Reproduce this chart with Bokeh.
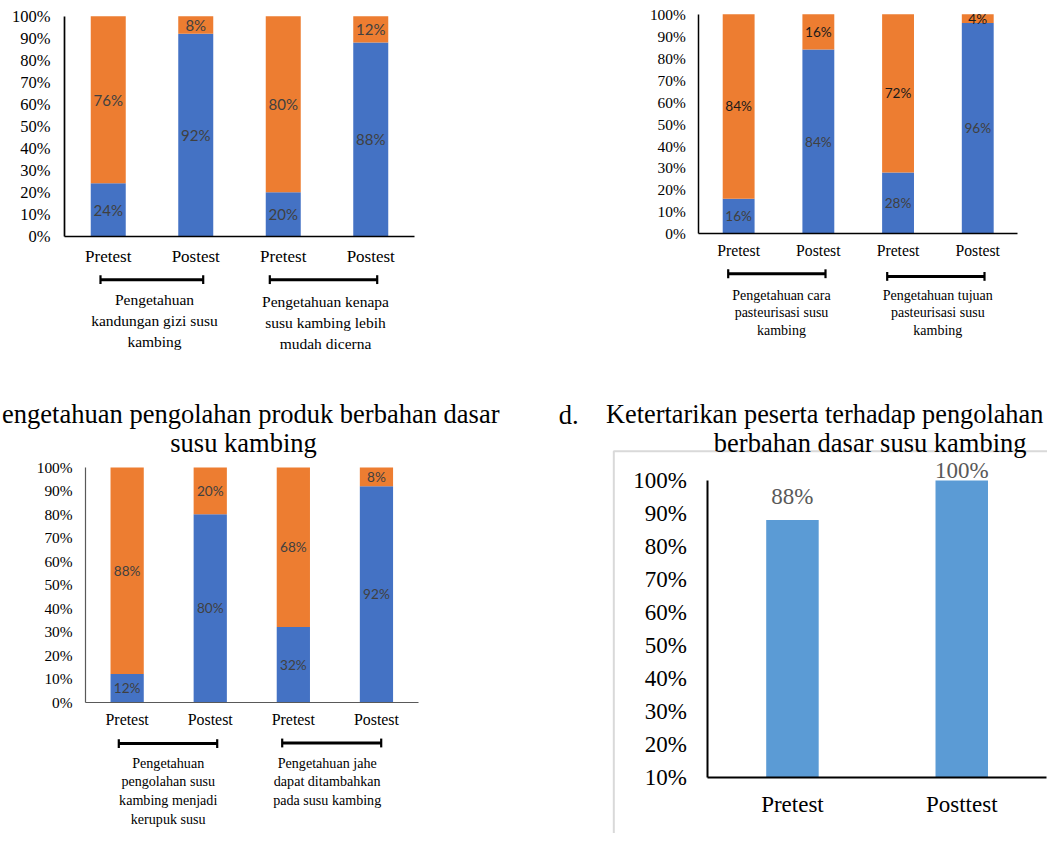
from bokeh.plotting import figure
from bokeh.layouts import column, row
from bokeh.models import Range1d, LinearAxis, FixedTicker, PrintfTickFormatter
from bokeh.core.properties import value
from bokeh.embed import file_html
from bokeh.resources import INLINE

# ---------------- data ----------------
categories = ["Pretest", "Postest", "Pretest", "Postest"]

a_blue = [24, 92, 20, 88]
a_orange = [76, 8, 80, 12]
a_groups = [["Pengetahuan", "kandungan gizi susu", "kambing"],
            ["Pengetahuan kenapa", "susu kambing lebih", "mudah dicerna"]]

b_blue = [16, 84, 28, 96]
b_orange = [84, 16, 72, 4]
b_groups = [["Pengetahuan cara", "pasteurisasi susu", "kambing"],
            ["Pengetahuan tujuan", "pasteurisasi susu", "kambing"]]

c_blue = [12, 80, 32, 92]
c_orange = [88, 20, 68, 8]
c_groups = [["Pengetahuan", "pengolahan susu", "kambing menjadi", "kerupuk susu"],
            ["Pengetahuan jahe", "dapat ditambahkan", "pada susu kambing"]]
c_title = ["engetahuan pengolahan produk berbahan dasar", "susu kambing"]

d_categories = ["Pretest", "Posttest"]
d_values = [88, 100]
d_title_prefix = "d."
d_title = ["Ketertarikan peserta terhadap pengolahan", "berbahan dasar susu kambing"]

y_ticks = [0, 10, 20, 30, 40, 50, 60, 70, 80, 90, 100]
d_ticks = [10, 20, 30, 40, 50, 60, 70, 80, 90, 100]

# ---------------- styles / geometry (reference pixels) ----------------
SY = 833 / 849
BLUE = "#4472C4"
ORANGE = "#ED7D31"
SERIF = "Liberation Serif"
SANS = "Lato"


def fs(px):
    return f"{px:.1f}px"


def mk_map(x0, unit, ylo_px, yhi_px, vlo):
    def X(px):
        return 0.5 + (px - x0) / unit

    def Y(py):
        return vlo + (ylo_px - py) / (ylo_px - yhi_px) * (100 - vlo)
    return X, Y


def base_fig(box, w, h, X, Y):
    p = figure(width=w, height=h,
               x_range=Range1d(X(box[0]), X(box[2])),
               y_range=Range1d(Y(box[3]), Y(box[1])),
               toolbar_location=None, output_backend="svg",
               x_axis_location=None, y_axis_location=None,
               min_border=0, outline_line_color=None,
               background_fill_color="white", border_fill_color="white")
    p.grid.visible = False
    return p


def add_axes(p, n, cats, ticks, vlo, st):
    ya = LinearAxis(fixed_location=0.5, bounds=(vlo, 100),
                    ticker=FixedTicker(ticks=ticks),
                    formatter=PrintfTickFormatter(format="%d%%"),
                    major_tick_in=0, major_tick_out=0,
                    minor_tick_line_color=None, major_tick_line_color=None,
                    axis_line_color=st["axis_color"], axis_line_width=st["axis_w"],
                    major_label_text_font=SERIF,
                    major_label_text_font_size=fs(st["tick_fs"]),
                    major_label_text_color="black",
                    major_label_standoff=st["y_standoff"])
    p.add_layout(ya, "left")
    xs = [i + 1 for i in range(n)]
    xa = LinearAxis(fixed_location=vlo, bounds=(0.5, n + 0.5),
                    ticker=FixedTicker(ticks=xs),
                    major_label_overrides={x: c for x, c in zip(xs, cats)},
                    major_tick_in=0, major_tick_out=0,
                    minor_tick_line_color=None, major_tick_line_color=None,
                    axis_line_color=st["axis_color"], axis_line_width=st["axis_w"],
                    major_label_text_font=SERIF,
                    major_label_text_font_size=fs(st["cat_fs"]),
                    major_label_text_color="black",
                    major_label_standoff=st["x_standoff"])
    p.add_layout(xa, "below")


def stacked_chart(blue, orange, groups, st):
    X, Y = mk_map(st["x0"], st["unit"], st["y0"], st["y1"], 0)
    box = st["box"]
    p = base_fig(box, st["w"], st["h"], X, Y)
    n = len(blue)
    xs = [i + 1 for i in range(n)]
    tops = [b + o for b, o in zip(blue, orange)]
    p.vbar(x=xs, width=0.4, bottom=0, top=blue, fill_color=BLUE, line_color=None)
    p.vbar(x=xs, width=0.4, bottom=blue, top=tops, fill_color=ORANGE, line_color=None)
    p.text(x=xs, y=[b / 2 for b in blue], text=[f"{b}%" for b in blue],
           text_align="center", text_baseline="middle",
           text_font=value(SANS), text_font_size=value(fs(st["lab_fs"])),
           text_color=st["blue_lab"])
    p.text(x=xs, y=[b + o / 2 for b, o in zip(blue, orange)], text=[f"{o}%" for o in orange],
           text_align="center", text_baseline="middle",
           text_font=value(SANS), text_font_size=value(fs(st["lab_fs"])),
           text_color=st["orange_lab"])
    add_axes(p, n, categories, y_ticks, 0, st)
    cap = 4.5
    for (xl, xr, yb) in st["brackets"]:
        p.segment(x0=[X(xl)], y0=[Y(yb)], x1=[X(xr)], y1=[Y(yb)],
                  line_width=3, line_color="black")
        p.segment(x0=[X(xl), X(xr)], y0=[Y(yb - cap)] * 2, x1=[X(xl), X(xr)],
                  y1=[Y(yb + cap)] * 2, line_width=2.2, line_color="black")
    for (cx, y_first, dy), lines in zip(st["groups"], groups):
        p.text(x=[X(cx)] * len(lines), y=[Y(y_first + k * dy) for k in range(len(lines))],
               text=lines, text_align="center", text_baseline="middle",
               text_font=value(SERIF), text_font_size=value(fs(st["grp_fs"])),
               text_color="black")
    return p, X, Y


W_left = 540
W_right = 1047 - W_left
H_top = round(385 * SY)
H_bot = 833 - H_top
R_EDGE = 540 + W_right

st_a = dict(box=(0, 0, 540, 385), w=W_left, h=H_top, x0=64, unit=87.5, y0=240, y1=16,
            axis_color="black", axis_w=1.7, tick_fs=16.5, cat_fs=17, grp_fs=15.5, lab_fs=15,
            y_standoff=14, x_standoff=11, blue_lab="#404040", orange_lab="#404040",
            brackets=[(100, 202.7, 284.3), (269.3, 376.7, 284.3)],
            groups=[(154, 305, 21.3), (325, 306.7, 21.2)])
st_b = dict(box=(540, 0, R_EDGE, 385), w=W_right, h=H_top, x0=698.3, unit=79.7, y0=237.7, y1=14,
            axis_color="black", axis_w=1.5, tick_fs=15.4, cat_fs=15.7, grp_fs=14, lab_fs=13.6,
            y_standoff=13, x_standoff=8, blue_lab="#404040", orange_lab="#1a1a1a",
            brackets=[(727.7, 825, 278.3), (886.7, 984, 281)],
            groups=[(781, 300, 17.9), (937.3, 300, 17.9)])
st_c = dict(box=(0, 385, 540, 849), w=W_left, h=H_bot, x0=85.1, unit=83.1, y0=715, y1=475.7,
            axis_color="#595959", axis_w=1.2, tick_fs=15.4, cat_fs=15.9, grp_fs=14.1, lab_fs=13.6,
            y_standoff=13, x_standoff=9, blue_lab="#404040", orange_lab="#404040",
            brackets=[(118.3, 216.7, 757.3), (281.7, 380.7, 756.7)],
            groups=[(167.7, 776.7, 19.1), (326.7, 776.7, 19.1)])
st_d = dict(box=(540, 385, R_EDGE, 849), w=W_right, h=H_bot, x0=707.3, unit=169.3, y0=791.7, y1=489,
            axis_color="black", axis_w=2, tick_fs=23, cat_fs=23, lab_fs=23,
            y_standoff=21, x_standoff=15, frame_box=(613.3, 459.3),
            label_offsets=[-24, -9.7])

# ---------------- charts ----------------
pa, _, _ = stacked_chart(a_blue, a_orange, a_groups, st_a)
pb, _, _ = stacked_chart(b_blue, b_orange, b_groups, st_b)
pc, Xc, Yc = stacked_chart(c_blue, c_orange, c_groups, st_c)

# title for chart c
pc.text(x=[Xc(499)], y=[Yc(421.5)], text=[c_title[0]], text_align="right",
        text_baseline="alphabetic", text_font=value(SERIF),
        text_font_size=value(fs(26.5)), text_color="black")
pc.text(x=[Xc(243)], y=[Yc(450.5)], text=[c_title[1]], text_align="center",
        text_baseline="alphabetic", text_font=value(SERIF),
        text_font_size=value(fs(26.5)), text_color="black")

# chart d
Xd, Yd = mk_map(st_d["x0"], st_d["unit"], st_d["y0"], st_d["y1"], 10)
pd_ = base_fig(st_d["box"], st_d["w"], st_d["h"], Xd, Yd)
fl, ft = st_d["frame_box"]
pd_.quad(left=[Xd(fl)], right=[Xd(1100)], top=[Yd(ft)], bottom=[Yd(900)],
         fill_color=None, line_color="#D9D9D9", line_width=2)
dx = [i + 1 for i in range(len(d_values))]
pd_.vbar(x=dx, width=0.31, bottom=10, top=d_values, fill_color="#5B9BD5", line_color=None)
pd_.text(x=dx, y=d_values, text=[f"{v}%" for v in d_values],
         y_offset=[o * SY for o in st_d["label_offsets"]],
         text_align="center", text_baseline="middle", text_font=value(SERIF),
         text_font_size=value(fs(st_d["lab_fs"])), text_color="#595959")
add_axes(pd_, len(d_values), d_categories, d_ticks, 10, st_d)
pd_.text(x=[Xd(558.3)], y=[Yd(422)], text=[d_title_prefix], text_align="left",
         text_baseline="alphabetic", text_font=value(SERIF),
         text_font_size=value(fs(26.5)), text_color="black")
pd_.text(x=[Xd(605.5)], y=[Yd(422)], text=[d_title[0]], text_align="left",
         text_baseline="alphabetic", text_font=value(SERIF),
         text_font_size=value(fs(26.3)), text_color="black")
pd_.text(x=[Xd(869.7)], y=[Yd(451)], text=[d_title[1]], text_align="center",
         text_baseline="alphabetic", text_font=value(SERIF),
         text_font_size=value(fs(26.5)), text_color="black")

layout = column(row(pa, pb), row(pc, pd_))
open("out.html", "w").write(file_html(layout, INLINE))
